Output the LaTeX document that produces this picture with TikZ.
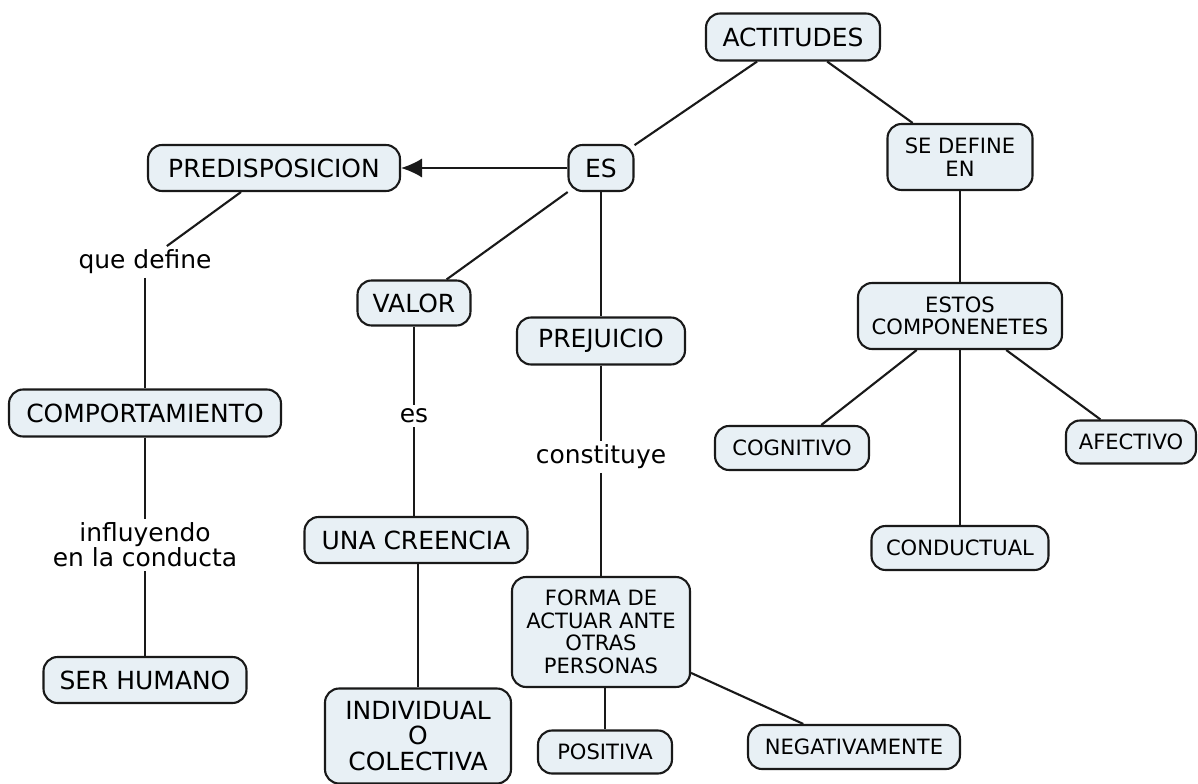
\documentclass[tikz,border=0pt]{standalone}
\usepackage{fontspec}
\setmainfont{DejaVu Sans}
\usepackage{tikz}
\usetikzlibrary{arrows.meta}
\definecolor{boxColor}{rgb}{0.91,0.94,0.96}
\definecolor{lineColor}{gray}{0.1}

\begin{document}
\begin{tikzpicture}[x=0.02cm,y=-0.02cm,
	concept/.style={draw=lineColor,line width=1.2pt,fill=boxColor,rounded corners=8pt,align=center,inner sep=0pt,font=\fontsize{14.2}{14.4}\selectfont},
	small/.style={font=\fontsize{12}{12.8}\selectfont},
	linkword/.style={fill=white,inner sep=2pt,align=center,font=\fontsize{14.2}{14.4}\selectfont},
	link/.style={draw=lineColor,line width=1.2pt}]
\useasboundingbox (0,0) rectangle (1198,784);
% conceptos
\node[concept,minimum width=3.48cm,minimum height=0.94cm] (actitudes) at (793,37) {ACTITUDES};
\node[concept,minimum width=1.30cm,minimum height=0.92cm] (es) at (601,168) {ES};
\node[concept,minimum width=5.04cm,minimum height=0.92cm] (predisp) at (274,168) {PREDISPOSICION};
\node[concept,small,minimum width=2.90cm,minimum height=1.32cm] (sedefine) at (960,157) {SE DEFINE\\EN};
\node[concept,minimum width=2.26cm,minimum height=0.90cm] (valor) at (414,303) {VALOR};
\node[concept,minimum width=3.36cm,minimum height=0.94cm] (prejuicio) at (601,341) {PREJUICIO};
\node[concept,small,minimum width=4.08cm,minimum height=1.32cm] (estos) at (960,316) {ESTOS\\COMPONENETES};
\node[concept,minimum width=5.44cm,minimum height=0.94cm] (comport) at (145,413) {COMPORTAMIENTO};
\node[concept,small,minimum width=3.08cm,minimum height=0.88cm] (cognitivo) at (792,448) {COGNITIVO};
\node[concept,small,minimum width=2.60cm,minimum height=0.86cm] (afectivo) at (1131,442) {AFECTIVO};
\node[concept,small,minimum width=3.54cm,minimum height=0.88cm] (conductual) at (960,548) {CONDUCTUAL};
\node[concept,minimum width=4.46cm,minimum height=0.92cm] (creencia) at (416,540) {UNA CREENCIA};
\node[concept,small,minimum width=3.56cm,minimum height=2.20cm] (forma) at (601,632) {FORMA DE\\ACTUAR ANTE\\OTRAS\\PERSONAS};
\node[concept,minimum width=4.06cm,minimum height=0.92cm] (humano) at (145,680) {SER HUMANO};
\node[concept,minimum width=3.72cm,minimum height=1.90cm] (individual) at (418,736) {INDIVIDUAL\\O\\COLECTIVA};
\node[concept,small,minimum width=2.68cm,minimum height=0.86cm] (positiva) at (605,752) {POSITIVA};
\node[concept,small,minimum width=4.24cm,minimum height=0.88cm] (negativa) at (854,747) {NEGATIVAMENTE};
% palabras de enlace
\node[linkword] (quedefine) at (145,262) {que define};
\node[linkword] (esw) at (414,416) {es};
\node[linkword] (constituye) at (601,457) {constituye};
\node[linkword] (influyendo) at (145,545) {influyendo\\en la conducta};
% conexiones
\path [link] (actitudes) -- (es);
\path [link] (actitudes) -- (sedefine);
\path [link,-{Latex[length=12pt,width=11pt]}] (es) -- (predisp);
\path [link] (es) -- (valor);
\path [link] (es) -- (prejuicio);
\path [link] (predisp) -- (quedefine);
\path [link] (quedefine) -- (comport);
\path [link] (comport) -- (influyendo);
\path [link] (influyendo) -- (humano);
\path [link] (valor) -- (esw);
\path [link] (esw) -- (esw |- creencia.north);
\path [link] (creencia.south -| individual) -- (individual);
\path [link] (prejuicio) -- (constituye);
\path [link] (constituye) -- (forma);
\path [link] (forma.south -| positiva) -- (positiva);
\path [link] (forma) -- (negativa);
\path [link] (sedefine) -- (estos);
\path [link] (estos) -- (cognitivo);
\path [link] (estos) -- (conductual);
\path [link] (estos) -- (afectivo);
%
\end{tikzpicture}
\end{document}
